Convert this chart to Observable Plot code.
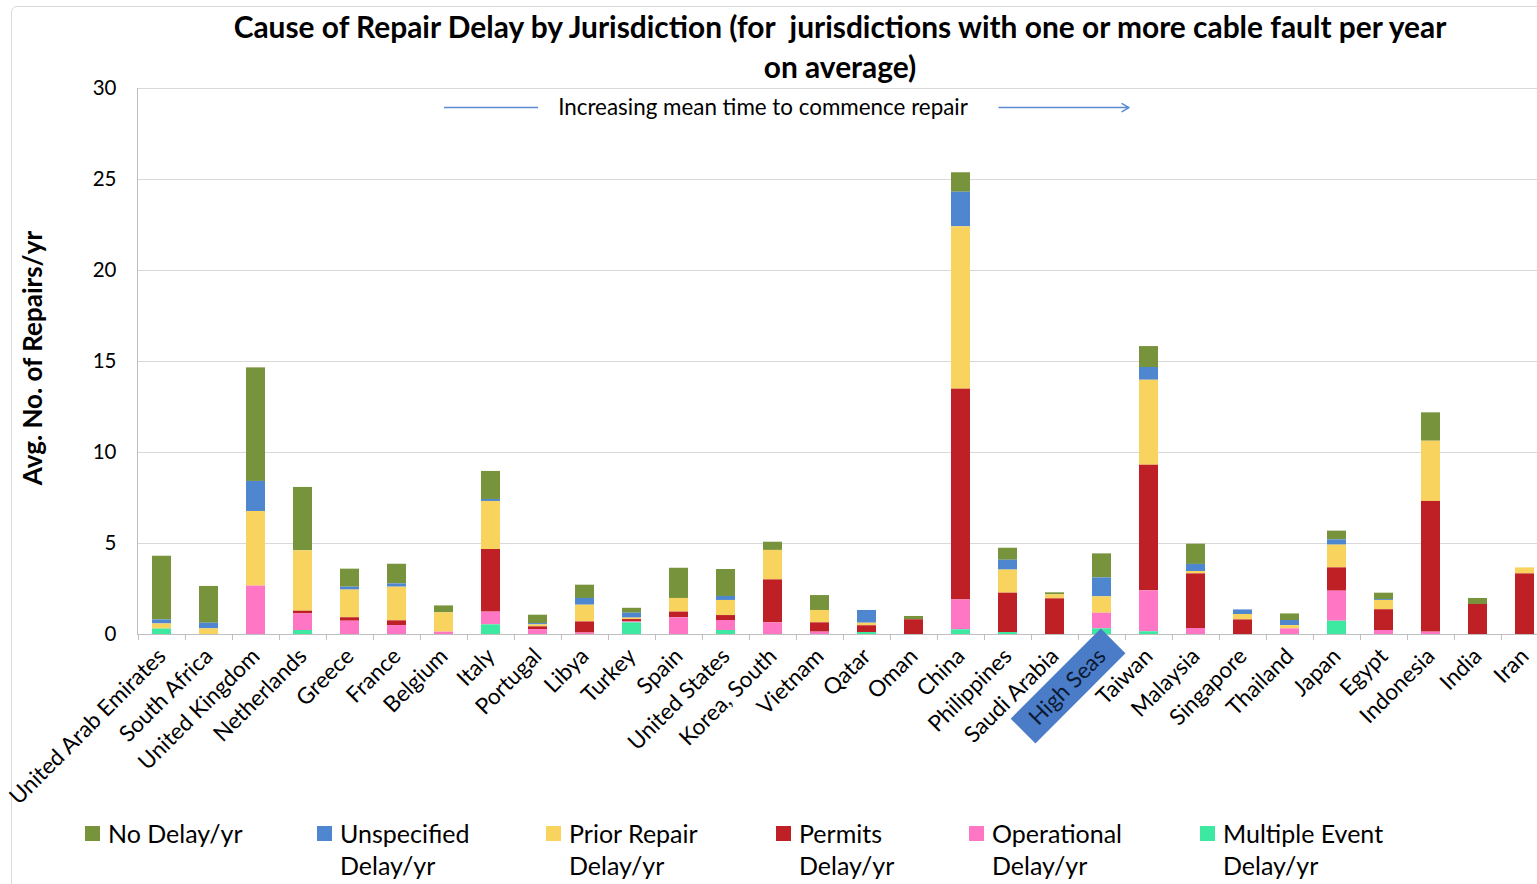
<!DOCTYPE html>
<html><head><meta charset="utf-8">
<script src="https://cdn.jsdelivr.net/npm/d3@7"></script>
<script src="https://cdn.jsdelivr.net/npm/@observablehq/plot@0.6"></script>
<style>
body{margin:0;background:#fff;font-family:Lato,sans-serif;color:#000;}
#wrap{position:relative;width:1537px;height:884px;overflow:hidden;background:#fff;}
#frame{position:absolute;left:11px;top:6px;width:1600px;height:1000px;border:1px solid #d9d9d9;border-radius:6px;}
#title{position:absolute;left:0;top:6px;width:1680px;text-align:center;font-weight:700;font-size:29.9px;line-height:40px;}
#ylabel{position:absolute;left:32px;top:358px;transform:translate(-50%,-50%) rotate(-90deg);font-weight:700;font-size:26px;white-space:nowrap;}
#chart{position:absolute;left:0;top:0;}
.leg{position:absolute;top:817px;font-size:25px;line-height:32px;white-space:nowrap;}
.sw{position:absolute;width:15px;height:15px;top:9px;}
</style></head>
<body><div id="wrap"><div id="frame"></div><div id="chart"></div><div id="title">Cause of Repair Delay by Jurisdiction (for&nbsp; jurisdictions with one or more cable fault per year<br>on average)</div><div id="ylabel"></div><div id="legend"></div></div>
<script>
const countries = ["United Arab Emirates","South Africa","United Kingdom","Netherlands","Greece","France","Belgium","Italy","Portugal","Libya","Turkey","Spain","United States","Korea, South","Vietnam","Qatar","Oman","China","Philippines","Saudi Arabia","High Seas","Taiwan","Malaysia","Singapore","Thailand","Japan","Egypt","Indonesia","India","Iran"];
const seriesNames = ["No Delay/yr","Unspecified Delay/yr","Prior Repair Delay/yr","Permits Delay/yr","Operational Delay/yr","Multiple Event Delay/yr"];
const seriesColors = ["#77933C","#4F86D0","#F8D35E","#BE2026","#FF77C4","#3DE8A0"];
const noDelay      = [3.5,2.02,6.24,3.48,0.99,1.08,0.38,1.54,0.46,0.73,0.27,1.66,1.48,0.45,0.82,0,0.18,1.07,0.66,0.11,1.32,1.15,1.11,0,0.36,0.48,0.35,1.56,0.33,0];
const unspecified  = [0.22,0.31,1.65,0,0.16,0.18,0,0.11,0.07,0.37,0.27,0,0.22,0,0,0.7,0,1.9,0.54,0,1.04,0.7,0.39,0.25,0.28,0.29,0.05,0,0,0];
const priorRepair  = [0.28,0.31,4.1,3.32,1.52,1.85,1.06,2.64,0.11,0.92,0.08,0.75,0.83,1.62,0.68,0.14,0,8.92,1.27,0.22,0.9,4.67,0.13,0.3,0.18,1.25,0.51,3.31,0,0.33];
const permits      = [0,0,0,0.15,0.19,0.26,0,3.44,0.15,0.61,0.13,0.31,0.27,2.36,0.51,0.37,0.81,11.58,2.16,1.96,0,6.9,3.0,0.8,0,1.28,1.14,7.18,1.65,3.33];
const operational  = [0,0,2.66,0.91,0.73,0.49,0.13,0.7,0.27,0.08,0.05,0.92,0.55,0.64,0.13,0,0,1.64,0,0,0.86,2.25,0.33,0,0.31,1.65,0.22,0.13,0,0];
const multipleEvent= [0.3,0,0,0.22,0,0,0,0.53,0,0,0.64,0,0.22,0,0,0.11,0,0.26,0.11,0,0.31,0.15,0,0,0,0.73,0,0,0,0];
const yTicks = [0,5,10,15,20,25,30];
const yLabel = "Avg. No. of Repairs/yr";
const annotationText = "Increasing mean time to commence repair";
const highlighted = "High Seas";

const seriesValues = [noDelay, unspecified, priorRepair, permits, operational, multipleEvent];
const rows = [];
seriesNames.forEach((s, k) => countries.forEach((c, i) => rows.push({country: c, series: s, value: seriesValues[k][i]})));
const stackOrder = seriesNames.slice().reverse();

const xRange = [137, 1548.5];
const step = (xRange[1] - xRange[0]) / countries.length;

const svg = Plot.plot({
  width: 1537, height: 884,
  marginTop: 88, marginBottom: 250, marginLeft: 137, marginRight: 0,
  style: {fontFamily: "Lato, sans-serif", fontSize: "20px", color: "#000", background: "transparent", overflow: "hidden"},
  x: {domain: countries, range: xRange, paddingInner: 0.6, paddingOuter: 0.3, label: null},
  y: {domain: [0, 30], label: null},
  color: {domain: seriesNames, range: seriesColors},
  marks: [
    Plot.gridY(yTicks, {stroke: "#d9d9d9", strokeOpacity: 1}),
    Plot.frame({anchor: "left", stroke: "#bfbfbf"}),
    Plot.barY(rows, {x: "country", y: "value", fill: "series", order: stackOrder}),
    Plot.ruleY([0], {stroke: "#bfbfbf"}),
    Plot.axisY(yTicks, {tickSize: 0, tickPadding: 21, fontSize: 20.5, label: null}),
    Plot.axisX({tickSize: 0, tickPadding: 18, tickRotate: -45, fontSize: 22.5, label: null}),
    Plot.axisX({tickSize: 6, dx: -step / 2, text: null, stroke: "#bfbfbf", label: null}),
    Plot.text([annotationText], {x: () => "Korea, South", y: () => 28.95, dx: -10, fontSize: 22.4}),
    Plot.link([{a: "Belgium", b: "Portugal"}], {x1: "a", x2: "b", y1: () => 28.95, y2: () => 28.95, stroke: "#5b8bd0", strokeWidth: 1.5}),
    Plot.arrow([{a: "China", b: "Taiwan"}], {x1: "a", x2: "b", y1: () => 28.95, y2: () => 28.95, insetStart: 38, insetEnd: 20, stroke: "#5b8bd0", strokeWidth: 1.5, headLength: 8})
  ]
});
document.getElementById("chart").append(svg);
document.getElementById("ylabel").textContent = yLabel;

// highlight box behind the "High Seas" tick label
svg.querySelectorAll("text").forEach(t => {
  if (t.textContent === highlighted) {
    const b = t.getBBox();
    const r = document.createElementNS("http://www.w3.org/2000/svg", "rect");
    r.setAttribute("x", b.x - 14); r.setAttribute("y", b.y - 3);
    r.setAttribute("width", b.width + 30); r.setAttribute("height", b.height + 8);
    r.setAttribute("fill", "#4A7CC8");
    const tr = t.getAttribute("transform");
    if (tr) r.setAttribute("transform", tr);
    t.parentNode.insertBefore(r, t);
    t.setAttribute("fill", "#0b1a33");
  }
});

const legendLefts = [85, 317, 546, 776, 969, 1200];
const leg = document.getElementById("legend");
seriesNames.forEach((s, k) => {
  const d = document.createElement("div");
  d.className = "leg";
  d.style.left = legendLefts[k] + "px";
  const label = s === "No Delay/yr" ? s : s.replace(/ (Delay\/yr)$/, "<br>$1");
  d.innerHTML = `<span class="sw" style="background:${seriesColors[k]};left:0"></span><div style="margin-left:23px">${label}</div>`;
  leg.append(d);
});
</script></body></html>
